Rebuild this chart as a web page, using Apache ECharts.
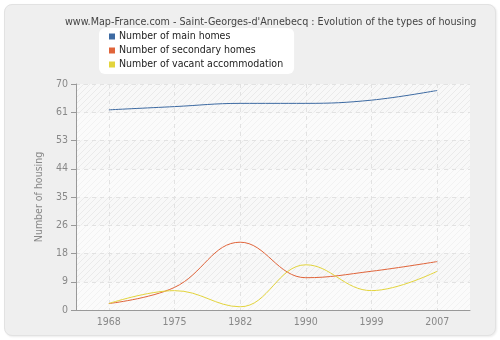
<!DOCTYPE html>
<html>
<head>
<meta charset="utf-8">
<script src="https://cdn.jsdelivr.net/npm/echarts@6/dist/echarts.min.js"></script>
<style>
  html, body { margin: 0; padding: 0; background: #ffffff; }
  #frame {
    position: absolute; left: 4px; top: 4px; width: 490px; height: 330px;
    background: #efefef; border: 1px solid #e2e2e2; border-radius: 8px;
    box-shadow: 1px 1px 2px rgba(0,0,0,0.08);
  }
  #chart { position: absolute; left: 0; top: 0; width: 500px; height: 340px; }
</style>
</head>
<body>
<div id="frame"></div>
<div id="chart"></div>
<script>
// Census years and housing counts for Saint-Georges-d'Annebecq
const years = ['1968', '1975', '1982', '1990', '1999', '2007'];
const mainHomes = [62, 63, 64, 64, 65, 68];
const secondaryHomes = [2, 7, 21, 10, 12, 15];
const vacantHomes = [2, 6, 1, 14, 6, 12];
const seriesNames = ['Number of main homes', 'Number of secondary homes', 'Number of vacant accommodation'];
const seriesColors = ['#3d6aa2', '#e0643a', '#e3d43c'];

// Diagonal hatch tile used for the plot bands
function hatch(bg, line) {
  const c = document.createElement('canvas');
  c.width = 6; c.height = 6;
  const g = c.getContext('2d');
  g.fillStyle = bg; g.fillRect(0, 0, 6, 6);
  g.strokeStyle = line; g.lineWidth = 1;
  g.beginPath();
  g.moveTo(-1, 7); g.lineTo(7, -1);
  g.moveTo(-1, 1); g.lineTo(1, -1);
  g.moveTo(5, 7); g.lineTo(7, 5);
  g.stroke();
  return { image: c, repeat: 'repeat' };
}

const chart = echarts.init(document.getElementById('chart'), null, { renderer: 'canvas' });
const font = 'DejaVu Sans Condensed, DejaVu Sans';

chart.setOption({
  animation: false,
  title: {
    text: "www.Map-France.com - Saint-Georges-d'Annebecq : Evolution of the types of housing",
    left: 60, top: 12,
    textStyle: { fontFamily: font, fontSize: 10.7, fontWeight: 'normal', color: '#444' }
  },
  legend: {
    orient: 'vertical', left: 99, top: 28,
    data: seriesNames,
    icon: 'rect', itemWidth: 6, itemHeight: 6, itemGap: 3,
    backgroundColor: '#ffffff', borderRadius: 6,
    padding: [3, 11, 4, 10],
    textStyle: { fontFamily: font, fontSize: 10.5, color: '#222', padding: [0, 0, 0, -1] }
  },
  grid: { left: 76, top: 84, right: 30, bottom: 30, containLabel: false },
  xAxis: {
    type: 'category', data: years, boundaryGap: true,
    axisLine: { lineStyle: { color: '#999' } },
    axisTick: { alignWithLabel: true, length: 5, lineStyle: { color: '#999' } },
    axisLabel: { fontFamily: font, fontSize: 10.5, color: '#888', margin: 7 },
    splitLine: { show: true, alignWithLabel: true, lineStyle: { color: '#e2e2e2', type: [4, 4] } }
  },
  yAxis: {
    type: 'value', min: 0, max: 70, interval: 8.75,
    name: 'Number of housing', nameLocation: 'middle', nameGap: 24,
    nameTextStyle: { fontFamily: font, fontSize: 10.5, color: '#888' },
    axisLine: { show: true, lineStyle: { color: '#999' } },
    axisTick: { show: true, length: 5, lineStyle: { color: '#999' } },
    axisLabel: { fontFamily: font, fontSize: 10.5, color: '#888', margin: 8,
      formatter: v => String(Math.round(v)) },
    splitLine: { lineStyle: { color: '#e2e2e2', type: [4, 4] } },
    splitArea: { show: true, areaStyle: { color: [hatch('#fbfbfb', '#f2f2f2'), hatch('#f8f8f8', '#eaeaea')] } }
  },
  series: [mainHomes, secondaryHomes, vacantHomes].map((d, i) => ({
    name: seriesNames[i], type: 'line', data: d, smooth: 0.4,
    showSymbol: false, symbol: 'none',
    lineStyle: { width: 1, color: seriesColors[i] },
    itemStyle: { color: seriesColors[i] }
  }))
});
</script>
</body>
</html>
